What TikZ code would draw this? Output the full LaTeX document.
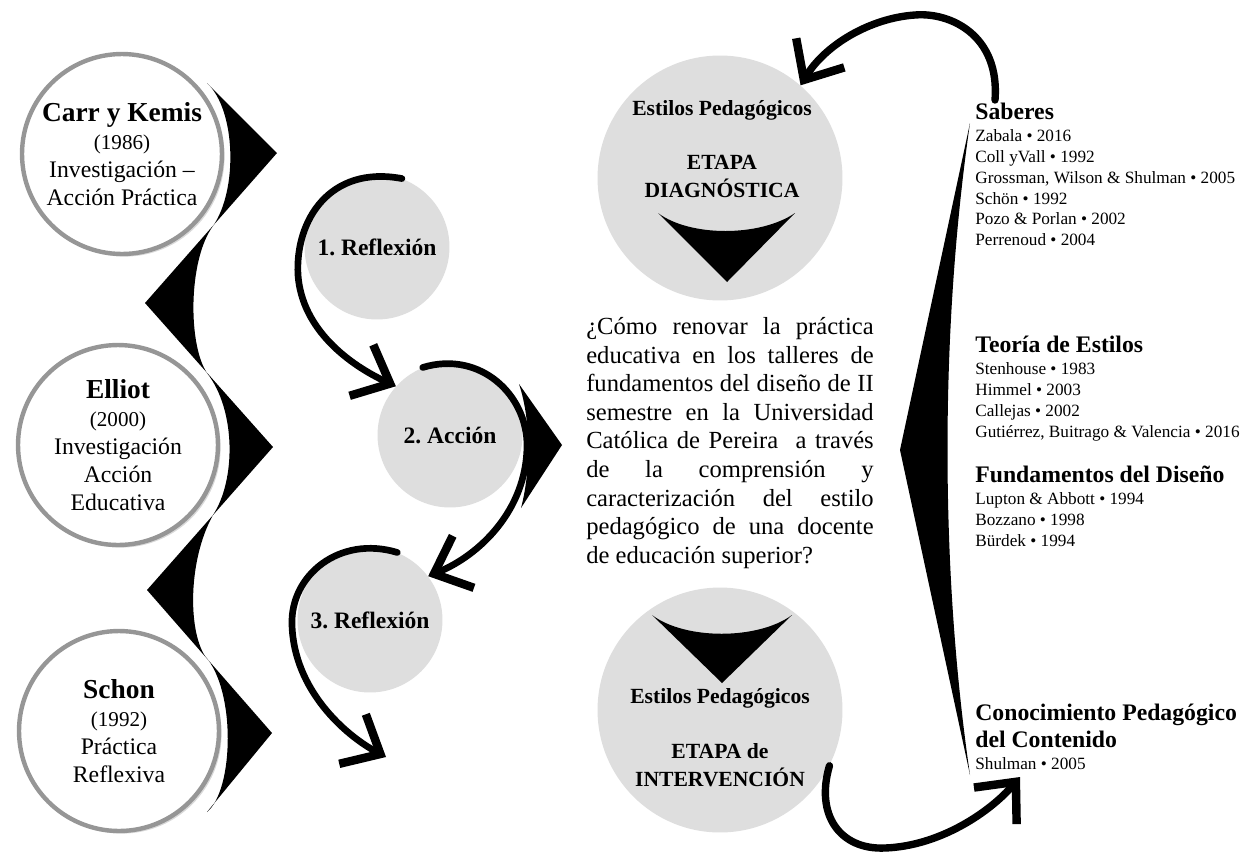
\documentclass[tikz,border=0pt]{standalone}
\usepackage{fontspec}
\setmainfont{Liberation Serif}
\usepackage{tikz}
\usetikzlibrary{calc}
\usetikzlibrary{arrows.meta}
\usetikzlibrary{shadows}
\definecolor{ringgray}{RGB}{150,150,150}
\definecolor{stagegray}{RGB}{222,222,222}
\tikzset{
    autor/.style={circle, draw=ringgray, line width=2.5pt, fill=white, minimum size=4cm, align=center, inner sep=0pt,
        font=\fontsize{13.5}{15.9}\selectfont, drop shadow={opacity=0.3, shadow xshift=1.5pt, shadow yshift=-1.5pt}},
    paso/.style={circle, fill=stagegray, minimum size=2.9cm, inner sep=0pt, font=\fontsize{13.4}{15}\selectfont\bfseries},
    etapa/.style={circle, fill=stagegray, minimum size=4.9cm, inner sep=0pt},
    brush/.style={line width=3.8pt, line cap=round, -{Straight Barb[length=18pt,width=32pt,line width=4.8pt]}},
    bigbrush/.style={brush, line width=4.2pt},
    headtxt/.style={anchor=south west, inner sep=0pt, font=\fontsize{13.5}{15}\selectfont\bfseries},
    reftxt/.style={anchor=north west, inner sep=0pt, align=left, font=\fontsize{9.8}{11.8}\selectfont},
    etapatxt/.style={inner sep=0pt, align=center, font=\fontsize{12.3}{15.8}\selectfont\bfseries}
}
\frenchspacing
\begin{document}
\begin{tikzpicture}[x=0.02cm, y=-0.02cm]
    \useasboundingbox (0,0) rectangle (1250,856);
    \fill (207,83) -- (277,153) -- (145,303) -- (273,447) -- (147,590) -- (272,733) -- (207,812)
        .. controls (234,790) and (236,690) .. (205,656)
        .. controls (188,630) and (188,560) .. (213,515)
        .. controls (236,480) and (236,410) .. (207,373)
        .. controls (188,345) and (188,260) .. (213,226)
        .. controls (238,190) and (236,110) .. (207,83) -- cycle;
    \node[autor] (carr) at (122,154) {{\fontsize{15.6}{17}\selectfont\bfseries Carr y Kemis}\\{\fontsize{12}{15}\selectfont (1986)}\\Investigación –\\Acción Práctica};
    \node[autor] (elliot) at (118,445) {{\fontsize{15.6}{17}\selectfont\bfseries Elliot}\\{\fontsize{12}{15}\selectfont (2000)}\\Investigación\\Acción\\Educativa};
    \node[autor] (schon) at (119,731) {{\fontsize{15.6}{17}\selectfont\bfseries Schon}\\{\fontsize{12}{15}\selectfont (1992)}\\Práctica\\Reflexiva};
    \node[paso] (refl1) at (377,247) {1. Reflexión};
    \node[paso] (accion) at (450,435) {2. Acción};
    \node[paso] (refl2) at (370,620) {3. Reflexión};
    \fill (519,384) -- (562,445) -- (521,508) .. controls (531,470) and (531,420) .. (519,384) -- cycle;
    \node[etapa] (diag) at (720,178) {};
    \node[etapa] (interv) at (720,710) {};
    \fill (658,213) .. controls (690,237) and (760,237) .. (795,213) -- (727,282) -- cycle;
    \fill (652,615) .. controls (685,640) and (758,640) .. (792,615) -- (722,683) -- cycle;
    \node[etapatxt, anchor=base] (diagtit) at (722,115) {Estilos Pedagógicos};
    \node[etapatxt, anchor=north] (diagetapa) at (722,155) {ETAPA\\DIAGNÓSTICA};
    \node[etapatxt, anchor=base] (intervtit) at (720,703) {Estilos Pedagógicos};
    \node[etapatxt, anchor=north] (intervetapa) at (720,743) {ETAPA de\\INTERVENCIÓN};
    \node[inner sep=0pt, text width=5.75cm, align=justify, font=\fontsize{14}{16.3}\selectfont] (pregunta) at (730,443)
        {¿Cómo renovar la práctica\linebreak educativa en los talleres de\linebreak fundamentos del diseño de II\linebreak semestre en la Universidad\linebreak Católica de Pereira\ \ a través\linebreak de la comprensión y\linebreak caracterización del estilo\linebreak pedagógico de una docente\linebreak de educación superior?};
    \fill (970,123) -- (900,450) -- (970,775) .. controls (940,570) and (940,330) .. (970,123) -- cycle;
    \node[headtxt] (saberes) at (975,120) {Saberes};
    \node[reftxt] (saberesref) at ([yshift=-5.5pt]saberes.south west) {Zabala • 2016\\Coll yVall • 1992\\Grossman, Wilson \& Shulman • 2005\\Schön • 1992\\Pozo \& Porlan • 2002\\Perrenoud • 2004};
    \node[headtxt] (teoria) at (975,353) {Teoría de Estilos};
    \node[reftxt] (teoriaref) at ([yshift=-5.5pt]teoria.south west) {Stenhouse • 1983\\Himmel • 2003\\Callejas • 2002\\Gutiérrez, Buitrago \& Valencia • 2016};
    \node[headtxt] (fundamentos) at (975,483) {Fundamentos del Diseño};
    \node[reftxt] (fundamentosref) at ([yshift=-5.5pt]fundamentos.south west) {Lupton \& Abbott • 1994\\Bozzano • 1998\\Bürdek • 1994};
    \node[headtxt, align=left, anchor=north west] (conocimiento) at (975,704) {Conocimiento Pedagógico\\del Contenido};
    \node[reftxt] (conocimientoref) at ([yshift=-5.5pt]conocimiento.south west) {Shulman • 2005};
    \coordinate (pasofin) at (386,757);
    \coordinate (arcoini) at (995,100);
    \coordinate (arcofin) at (1020,777);
    \draw[brush] (refl1.70) .. controls (330,165) and (295,220) .. (298,275) .. controls (302,330) and (350,365) .. (accion.138);
    \draw[brush] (accion.112) .. controls (480,350) and (528,395) .. (527,447) .. controls (526,510) and (480,555) .. (refl2.37);
    \draw[brush] (refl2.68) .. controls (340,535) and (290,575) .. (292,625) .. controls (294,690) and (345,735) .. (pasofin);
    \draw[bigbrush] (arcoini) .. controls (1000,35) and (950,12) .. (915,15) .. controls (870,18) and (825,45) .. (diag.49);
    \draw[bigbrush] (interv.-27) .. controls (815,815) and (840,850) .. (885,848) .. controls (940,846) and (990,812) .. (arcofin);
\end{tikzpicture}
\end{document}
